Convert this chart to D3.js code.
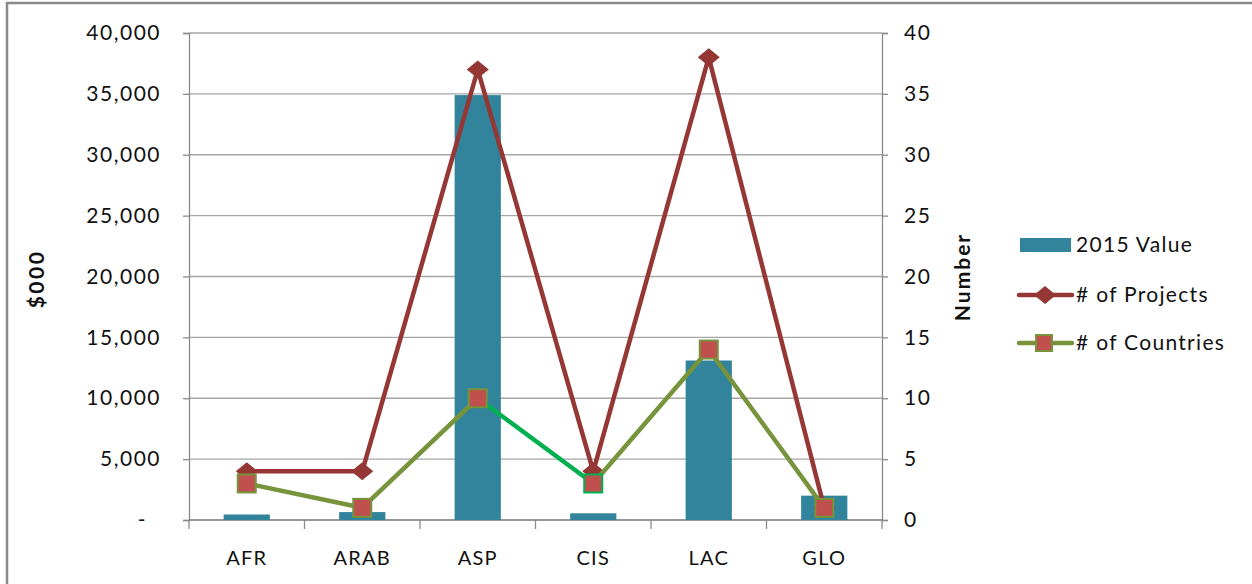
<html>
<head>
<meta charset="utf-8">
<title>2015 Value by Region</title>
<style>
  body { margin:0; background:#fff; }
  text { font-family: Lato, "Open Sans", sans-serif; fill:#111; }
</style>
</head>
<body>
<script src="https://cdn.jsdelivr.net/npm/d3@7"></script>
<script>
// data
var regions   = ["AFR", "ARAB", "ASP", "CIS", "LAC", "GLO"];
var value2015 = [450, 650, 34900, 550, 13100, 2000];   // $000
var projects  = [4, 4, 37, 4, 38, 1];
var countries = [3, 1, 10, 3, 14, 1];
var leftTicks  = [0, 5000, 10000, 15000, 20000, 25000, 30000, 35000, 40000];
var rightTicks = [0, 5, 10, 15, 20, 25, 30, 35, 40];
var legendNames = ["2015 Value", "# of Projects", "# of Countries"];

var W = 1252, H = 584;
var pLeft = 189, pRight = 882, pTop = 33, pBottom = 520;

var svg = d3.select("body").append("svg")
            .attr("width", W).attr("height", H);

// chart frame (only top and left edge visible)
svg.append("path").attr("d", "M7,600 V3 H1260")
   .attr("fill", "none").attr("stroke", "#8a8a8a").attr("stroke-width", 2.5);

var xc = d3.scaleBand().domain(regions).range([pLeft, pRight]);
var barW = xc.bandwidth() * 0.4;
var yL = d3.scaleLinear().domain([0, 40000]).range([pBottom, pTop]);
var yR = d3.scaleLinear().domain([0, 40]).range([pBottom, pTop]);
var cx = i => xc(regions[i]) + xc.bandwidth() / 2;

// gridlines
svg.append("g").selectAll("line").data(leftTicks).enter().append("line")
   .attr("x1", pLeft).attr("x2", pRight)
   .attr("y1", d => yL(d)).attr("y2", d => yL(d))
   .attr("stroke", "#a6a6a6").attr("stroke-width", 1.3);

// left axis
var fmt = d => d === 0 ? "-" : d3.format(",")(d);
var gL = svg.append("g").attr("transform", "translate(" + pLeft + ",0)")
   .call(d3.axisLeft(yL).tickValues(leftTicks).tickFormat(fmt).tickSize(6).tickPadding(22));
gL.select(".domain").attr("stroke", "#8a8a8a").attr("stroke-width", 1.3);
gL.selectAll(".tick line").attr("stroke", "#8a8a8a").attr("stroke-width", 1.3);
gL.selectAll("text").attr("font-size", 21).attr("letter-spacing", 1.5).attr("fill", "#111");
gL.selectAll(".tick").filter(d => d === 0).select("text").attr("dx", -14);

// right axis
var gR = svg.append("g").attr("transform", "translate(" + pRight + ",0)")
   .call(d3.axisRight(yR).tickValues(rightTicks).tickSize(6).tickPadding(16));
gR.select(".domain").attr("stroke", "#8a8a8a").attr("stroke-width", 1.3);
gR.selectAll(".tick line").attr("stroke", "#8a8a8a").attr("stroke-width", 1.3);
gR.selectAll("text").attr("font-size", 21).attr("letter-spacing", 1.5).attr("fill", "#111");

// category axis
var gX = svg.append("g").attr("transform", "translate(0," + pBottom + ")");
gX.append("line").attr("x1", pLeft).attr("x2", pRight)
  .attr("stroke", "#8a8a8a").attr("stroke-width", 1.3);
gX.selectAll(".tk").data(d3.range(regions.length + 1)).enter().append("line")
  .attr("x1", i => pLeft + i * xc.step()).attr("x2", i => pLeft + i * xc.step())
  .attr("y1", 0).attr("y2", 9).attr("stroke", "#8a8a8a").attr("stroke-width", 1.3);
gX.selectAll("text").data(regions).enter().append("text")
  .attr("x", d => xc(d) + xc.bandwidth() / 2).attr("y", 45)
  .attr("text-anchor", "middle").attr("font-size", 20).attr("letter-spacing", 1.2)
  .text(d => d);

// axis titles
svg.append("text").attr("transform", "translate(44,279) rotate(-90)")
   .attr("text-anchor", "middle").attr("font-size", 21).attr("font-weight", "bold")
   .attr("letter-spacing", 2.5).text("$000");
svg.append("text").attr("transform", "translate(970,277) rotate(-90)")
   .attr("text-anchor", "middle").attr("font-size", 21).attr("font-weight", "bold")
   .attr("letter-spacing", 2).text("Number");

// bars
svg.append("g").selectAll("rect").data(value2015).enter().append("rect")
   .attr("x", (d, i) => cx(i) - barW / 2)
   .attr("width", barW)
   .attr("y", d => yL(d))
   .attr("height", d => pBottom - yL(d))
   .attr("fill", "#31849b");

var diamond = "M0,-9 L11,0 L0,9 L-11,0 Z";

// projects line
svg.append("path").datum(projects)
   .attr("d", d3.line().x((d, i) => cx(i)).y(d => yR(d)))
   .attr("fill", "none").attr("stroke", "#953735").attr("stroke-width", 4.5)
   .attr("stroke-linejoin", "round");
svg.append("g").selectAll("path").data(projects).enter().append("path")
   .attr("d", diamond)
   .attr("transform", (d, i) => "translate(" + cx(i) + "," + yR(d) + ")")
   .attr("fill", "#953735");

// countries line, segment into CIS is bright green
var segColor = i => i === 3 ? "#00b050" : "#77933c";
svg.append("g").selectAll("line").data(countries.slice(1)).enter().append("line")
   .attr("x1", (d, i) => cx(i)).attr("y1", (d, i) => yR(countries[i]))
   .attr("x2", (d, i) => cx(i + 1)).attr("y2", d => yR(d))
   .attr("stroke", (d, i) => segColor(i + 1)).attr("stroke-width", 4.5)
   .attr("stroke-linecap", "round");
svg.append("g").selectAll("rect").data(countries).enter().append("rect")
   .attr("x", (d, i) => cx(i) - 9).attr("y", d => yR(d) - 9)
   .attr("width", 18).attr("height", 18)
   .attr("fill", "#c0504d")
   .attr("stroke", (d, i) => segColor(i)).attr("stroke-width", 2);

// legend
var lg = svg.append("g");
var ly = [245, 295, 343];
lg.append("rect").attr("x", 1020).attr("y", ly[0] - 7).attr("width", 51).attr("height", 14)
  .attr("fill", "#31849b");
lg.append("line").attr("x1", 1019).attr("x2", 1072).attr("y1", ly[1]).attr("y2", ly[1])
  .attr("stroke", "#953735").attr("stroke-width", 4.5).attr("stroke-linecap", "round");
lg.append("path").attr("d", diamond)
  .attr("transform", "translate(1045," + ly[1] + ")").attr("fill", "#953735");
lg.append("line").attr("x1", 1019).attr("x2", 1072).attr("y1", ly[2]).attr("y2", ly[2])
  .attr("stroke", "#77933c").attr("stroke-width", 4.5).attr("stroke-linecap", "round");
lg.append("rect").attr("x", 1036).attr("y", ly[2] - 8).attr("width", 16).attr("height", 16)
  .attr("fill", "#c0504d").attr("stroke", "#77933c").attr("stroke-width", 2);
lg.selectAll("text").data(legendNames).enter().append("text")
  .attr("x", 1076).attr("y", (d, i) => ly[i]).attr("dy", "0.35em")
  .attr("font-size", 21).attr("letter-spacing", 1.3)
  .text(d => d);
</script>
</body>
</html>
